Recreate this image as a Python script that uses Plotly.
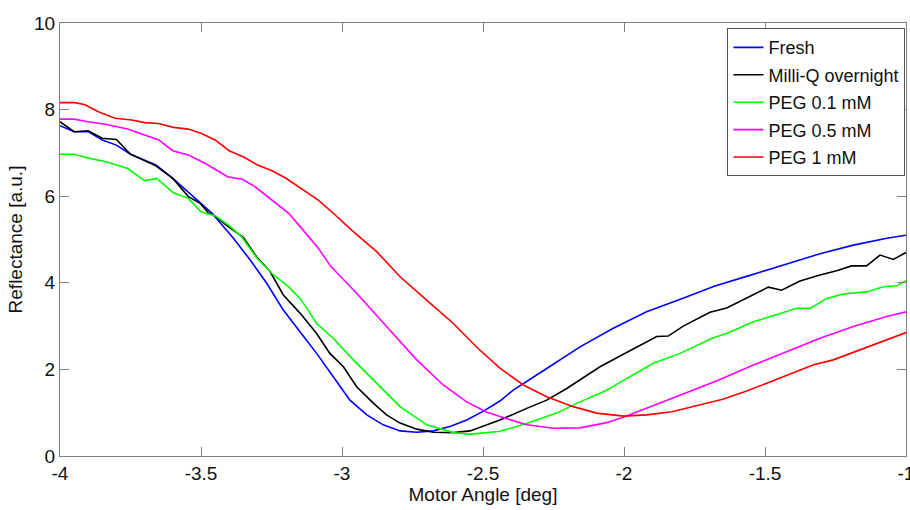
import plotly.graph_objects as go

# Reflectance scans versus motor angle for each surface treatment
fresh_x = [-4.00, -3.95, -3.90, -3.85, -3.80, -3.75, -3.66, -3.60, -3.52, -3.46,
           -3.385, -3.326, -3.267, -3.208, -3.149, -3.09, -3.031, -2.972, -2.912,
           -2.854, -2.794, -2.735, -2.676, -2.617, -2.558, -2.50, -2.44, -2.393,
           -2.274, -2.156, -2.038, -1.92, -1.80, -1.68, -1.56, -1.42, -1.305,
           -1.187, -1.068, -1.00]
fresh_y = [7.63, 7.49, 7.49, 7.30, 7.18, 6.97, 6.72, 6.41, 5.95, 5.60,
           5.03, 4.53, 3.99, 3.37, 2.87, 2.37, 1.83, 1.29, 0.95,
           0.72, 0.58, 0.55, 0.58, 0.68, 0.83, 1.03, 1.27, 1.52,
           2.02, 2.52, 2.95, 3.33, 3.62, 3.92, 4.16, 4.45, 4.67,
           4.87, 5.03, 5.10]

milliq_x = [-4.00, -3.95, -3.90, -3.85, -3.80, -3.75, -3.66, -3.60, -3.545, -3.504,
            -3.474, -3.456, -3.40, -3.35, -3.303, -3.255, -3.208, -3.149, -3.09,
            -3.043, -2.995, -2.948, -2.889, -2.842, -2.794, -2.735, -2.676, -2.605,
            -2.546, -2.487, -2.44, -2.345, -2.274, -2.203, -2.156, -2.085, -2.014,
            -1.955, -1.884, -1.843, -1.79, -1.695, -1.636, -1.565, -1.488, -1.441,
            -1.376, -1.305, -1.246, -1.193, -1.14, -1.092, -1.045, -1.00]
milliq_y = [7.72, 7.49, 7.51, 7.34, 7.31, 6.97, 6.70, 6.41, 5.99, 5.84,
            5.62, 5.57, 5.28, 5.05, 4.60, 4.26, 3.72, 3.30, 2.83,
            2.37, 2.06, 1.60, 1.22, 0.95, 0.76, 0.62, 0.55, 0.54,
            0.58, 0.72, 0.83, 1.10, 1.29, 1.56, 1.76, 2.06, 2.31,
            2.52, 2.76, 2.77, 3.00, 3.32, 3.42, 3.65, 3.90, 3.83,
            4.04, 4.18, 4.28, 4.39, 4.39, 4.64, 4.54, 4.70]

peg01_x = [-4.00, -3.95, -3.90, -3.84, -3.76, -3.70, -3.657, -3.598, -3.545, -3.50,
           -3.45, -3.40, -3.356, -3.303, -3.249, -3.22, -3.19, -3.149, -3.12,
           -3.09, -3.031, -2.96, -2.889, -2.794, -2.70, -2.605, -2.546, -2.487,
           -2.44, -2.345, -2.239, -2.156, -2.061, -2.014, -1.979, -1.896, -1.801,
           -1.754, -1.683, -1.636, -1.541, -1.459, -1.388, -1.34, -1.281, -1.222,
           -1.14, -1.08, -1.033, -1.00]
peg01_y = [6.97, 6.97, 6.88, 6.80, 6.64, 6.36, 6.41, 6.08, 5.95, 5.64,
           5.55, 5.32, 5.06, 4.58, 4.22, 4.06, 3.91, 3.64, 3.37,
           3.06, 2.72, 2.22, 1.76, 1.14, 0.72, 0.54, 0.50, 0.53,
           0.57, 0.75, 0.99, 1.25, 1.52, 1.70, 1.83, 2.14, 2.37,
           2.52, 2.73, 2.83, 3.10, 3.26, 3.41, 3.41, 3.64, 3.74,
           3.79, 3.91, 3.93, 4.05]

peg05_x = [-4.00, -3.95, -3.90, -3.84, -3.76, -3.70, -3.65, -3.60, -3.545, -3.486,
           -3.406, -3.353, -3.309, -3.26, -3.19, -3.146, -3.084, -3.04, -2.948,
           -2.842, -2.735, -2.641, -2.558, -2.49, -2.44, -2.345, -2.251, -2.156,
           -2.061, -2.00, -1.896, -1.79, -1.67, -1.541, -1.423, -1.305, -1.187,
           -1.068, -1.00]
peg05_y = [7.78, 7.78, 7.72, 7.66, 7.55, 7.41, 7.30, 7.05, 6.95, 6.76,
           6.45, 6.39, 6.22, 5.97, 5.61, 5.28, 4.80, 4.38, 3.76,
           2.99, 2.22, 1.64, 1.25, 1.02, 0.91, 0.72, 0.64, 0.65,
           0.77, 0.90, 1.16, 1.43, 1.74, 2.10, 2.41, 2.72, 2.99,
           3.22, 3.33]

peg1_x = [-4.00, -3.947, -3.911, -3.864, -3.805, -3.746, -3.699, -3.651, -3.598, -3.545,
          -3.498, -3.45, -3.40, -3.347, -3.30, -3.252, -3.20, -3.13, -3.084,
          -3.03, -2.96, -2.877, -2.794, -2.70, -2.605, -2.52, -2.44, -2.357,
          -2.274, -2.18, -2.097, -2.00, -1.92, -1.83, -1.74, -1.65, -1.565,
          -1.46, -1.33, -1.258, -1.163, -1.068, -1.00]
peg1_y = [8.16, 8.16, 8.11, 7.95, 7.80, 7.76, 7.70, 7.68, 7.59, 7.55,
          7.45, 7.30, 7.05, 6.90, 6.72, 6.60, 6.42, 6.10, 5.91,
          5.60, 5.18, 4.72, 4.14, 3.60, 3.06, 2.50, 2.03, 1.64,
          1.37, 1.14, 0.99, 0.92, 0.95, 1.02, 1.16, 1.31, 1.50,
          1.76, 2.10, 2.22, 2.45, 2.68, 2.85]

series_names = ["Fresh", "Milli-Q overnight", "PEG 0.1 mM", "PEG 0.5 mM", "PEG 1 mM"]
series_x = [fresh_x, milliq_x, peg01_x, peg05_x, peg1_x]
series_y = [fresh_y, milliq_y, peg01_y, peg05_y, peg1_y]
series_colors = ["#0000ff", "#000000", "#00ff00", "#ff00ff", "#ff0000"]

x_ticks = [-4, -3.5, -3, -2.5, -2, -1.5, -1]
x_tick_text = ["-4", "-3.5", "-3", "-2.5", "-2", "-1.5", "-1"]
y_ticks = [0, 2, 4, 6, 8, 10]

FONT = "Liberation Sans, Arial, sans-serif"

fig = go.Figure()
for name, xs, ys, col in zip(series_names, series_x, series_y, series_colors):
    # one legend group per trace so tracegroupgap spaces the entries
    fig.add_trace(go.Scatter(x=xs, y=ys, mode="lines", name=name, legendgroup=name,
                             line=dict(color=col, width=1.6)))

axis_common = dict(showgrid=False, zeroline=False, showline=True, mirror="ticks",
                   linecolor="#808080", linewidth=1.2, ticks="inside", ticklen=9,
                   tickcolor="#808080", tickwidth=1, ticklabeloverflow="allow",
                   automargin=False,
                   tickfont=dict(family=FONT, size=19, color="#111111"))

fig.update_xaxes(range=[-4, -1], tickvals=x_ticks, ticktext=x_tick_text,
                 title=dict(text="Motor Angle [deg]", standoff=4,
                            font=dict(family=FONT, size=19, color="#111111")),
                 **axis_common)
fig.update_yaxes(range=[0, 10], tickvals=y_ticks,
                 title=dict(text="Reflectance [a.u.]", standoff=6,
                            font=dict(family=FONT, size=19, color="#111111")),
                 **axis_common)

fig.update_layout(
    width=910, height=510,
    margin=dict(l=60, r=4, t=23, b=54, autoexpand=False),
    paper_bgcolor="white", plot_bgcolor="white",
    legend=dict(x=0.789, y=0.988, xanchor="left", yanchor="top",
                bgcolor="white", bordercolor="#555555", borderwidth=1,
                font=dict(family=FONT, size=18, color="#111111"),
                tracegroupgap=1),
    showlegend=True,
)

fig.write_html("out.html")
